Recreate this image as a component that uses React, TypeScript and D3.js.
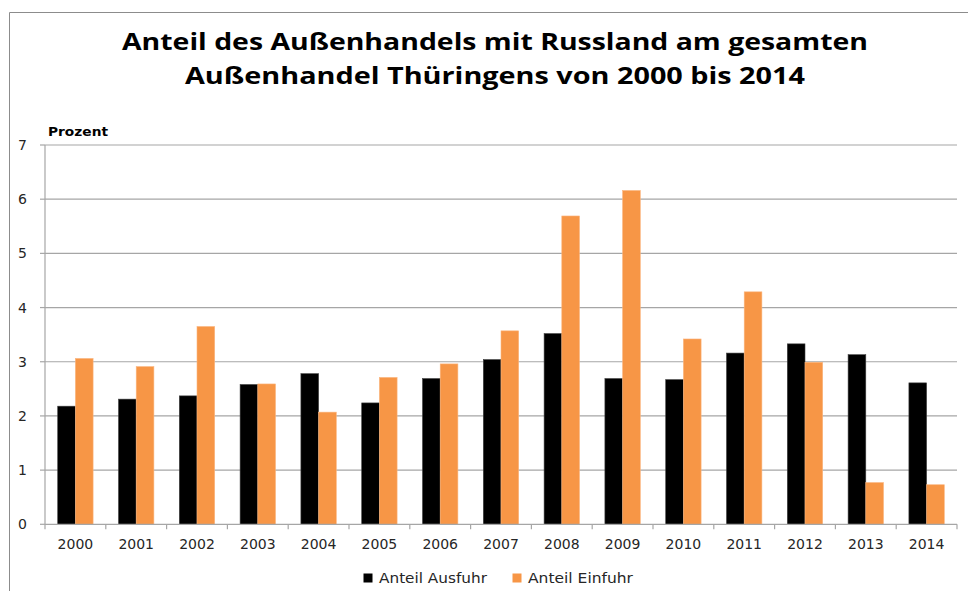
import React from "react";
import * as d3 from "d3";

const years = ["2000","2001","2002","2003","2004","2005","2006","2007","2008","2009","2010","2011","2012","2013","2014"];
const ausfuhr = [2.18, 2.31, 2.37, 2.58, 2.78, 2.24, 2.69, 3.04, 3.52, 2.69, 2.67, 3.16, 3.33, 3.13, 2.61];
const einfuhr = [3.06, 2.91, 3.65, 2.59, 2.07, 2.71, 2.96, 3.57, 5.69, 6.16, 3.42, 4.29, 2.99, 0.77, 0.73];
const seriesNames = ["Anteil Ausfuhr", "Anteil Einfuhr"];
const seriesColors = ["#000000", "#F79646"];
const yTicks = [0, 1, 2, 3, 4, 5, 6, 7];
const titleLines = ["Anteil des Außenhandels mit Russland am gesamten", "Außenhandel Thüringens von 2000 bis 2014"];

const W = 968, H = 591;
const left = 45, right = 957, top = 145, bottom = 524.3;

export default function App() {
  const x = d3.scaleBand<string>().domain(years).range([left, right]).paddingInner(0.418).paddingOuter(0.209);
  const xs = d3.scaleBand<string>().domain(seriesNames).range([0, x.bandwidth()]).padding(0);
  const y = d3.scaleLinear().domain([0, 7]).range([bottom, top]);
  const step = x.step();
  const data = [ausfuhr, einfuhr];
  const grid = "#A6A6A6";
  const font = "'DejaVu Sans', Verdana, sans-serif";

  return (
    <svg width={W} height={H} style={{ position: "absolute", left: 0, top: 0, background: "#fff" }}>
      <rect x={0} y={0} width={W} height={H} fill="#fff" />
      {/* frame */}
      <line x1={9.5} x2={W} y1={12.5} y2={12.5} stroke="#8c8c8c" strokeWidth={1} />
      <line x1={9.5} x2={9.5} y1={12.5} y2={H} stroke="#8c8c8c" strokeWidth={1} />
      {/* title */}
      <text x={495} y={50} textAnchor="middle" fontFamily="'Open Sans', sans-serif" fontWeight="bold" fontSize={24}
        textLength={746} lengthAdjust="spacingAndGlyphs" fill="#000">{titleLines[0]}</text>
      <text x={495} y={84} textAnchor="middle" fontFamily="'Open Sans', sans-serif" fontWeight="bold" fontSize={24}
        textLength={620} lengthAdjust="spacingAndGlyphs" fill="#000">{titleLines[1]}</text>
      {/* y unit label */}
      <text x={48} y={136} fontFamily={font} fontWeight="bold" fontSize={12.5} fill="#000"
        textLength={60} lengthAdjust="spacingAndGlyphs">Prozent</text>
      {/* grid lines and y labels */}
      {yTicks.map((t) => (
        <g key={t}>
          {t > 0 && <line x1={left} x2={right} y1={y(t)} y2={y(t)} stroke={grid} strokeWidth={1.2} />}
          <line x1={left - 5} x2={left} y1={y(t)} y2={y(t)} stroke={grid} strokeWidth={1.2} />
          <text x={27} y={y(t) + 5} textAnchor="end" fontFamily={font} fontSize={14} fill="#262626">{t}</text>
        </g>
      ))}
      {/* bars */}
      {years.map((yr, i) => (
        <g key={yr}>
          {data.map((arr, s) => (
            <rect key={s} x={(x(yr) as number) + (xs(seriesNames[s]) as number)} y={y(arr[i])}
              width={xs.bandwidth()} height={bottom - y(arr[i])} fill={seriesColors[s]}
              stroke={s === 0 ? "#404040" : "#FBB57E"} strokeWidth={0.6} />
          ))}
        </g>
      ))}
      {/* axes */}
      <line x1={left} x2={left} y1={top} y2={bottom} stroke={grid} strokeWidth={1.2} />
      <line x1={left} x2={right} y1={bottom} y2={bottom} stroke={grid} strokeWidth={1.2} />
      {d3.range(years.length + 1).map((k) => (
        <line key={k} x1={left + k * step} x2={left + k * step} y1={bottom} y2={bottom + 5} stroke={grid} strokeWidth={1.2} />
      ))}
      {years.map((yr) => (
        <text key={yr} x={(x(yr) as number) + x.bandwidth() / 2} y={549} textAnchor="middle"
          fontFamily={font} fontSize={14} fill="#262626">{yr}</text>
      ))}
      {/* legend */}
      <rect x={363.5} y={573.5} width={9} height={9} fill={seriesColors[0]} />
      <text x={379} y={582.5} fontFamily={font} fontSize={14} fill="#262626" textLength={108} lengthAdjust="spacingAndGlyphs">{seriesNames[0]}</text>
      <rect x={512.5} y={573.5} width={9} height={9} fill={seriesColors[1]} />
      <text x={528} y={582.5} fontFamily={font} fontSize={14} fill="#262626" textLength={105} lengthAdjust="spacingAndGlyphs">{seriesNames[1]}</text>
    </svg>
  );
}
